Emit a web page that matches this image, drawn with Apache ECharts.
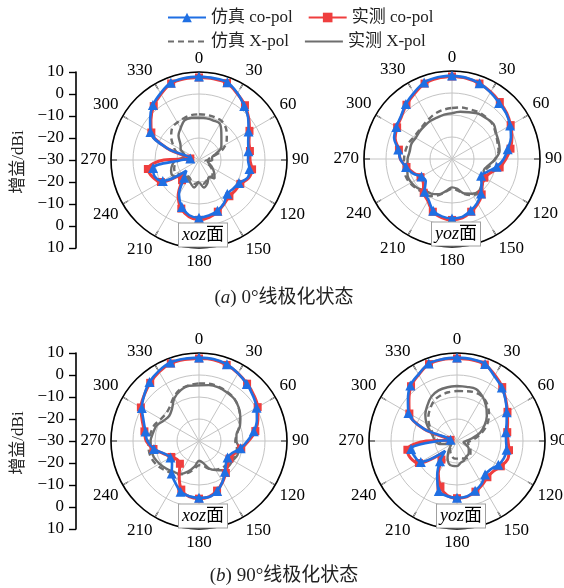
<!DOCTYPE html>
<html><head><meta charset="utf-8">
<script src="https://cdn.jsdelivr.net/npm/echarts@6/dist/echarts.min.js"></script>
<style>html,body{margin:0;padding:0;background:#fff}#c{width:564px;height:588px}</style>
</head><body><div id="c"></div>
<script>
// angles (deg), measured clockwise from top
const ANGLES = [0,10,20,30,40,50,60,70,80,90,100,110,120,130,140,150,160,170,180,190,200,210,220,230,240,250,260,270,280,290,300,310,320,330,340,350];
const ANGLE_TICKS = [0,30,60,90,120,150,180,210,240,270,300,330];
const GAIN_TICKS = ['10','0','−10','−20','−30','−20','−10','0','10'];

// (a) 0° linear polarisation, xoz plane
const a_xoz_simCo  = [7.9,7.8,7.6,5.0,2.0,-0.8,-4.0,-6.2,-7.2,-7.7,-6.7,-6.5,-9.0,-9.7,-10.0,-7.3,-5.5,-4.4,-3.8,-4.5,-7.3,-11.8,-19.5,-22.5,-11.0,-8.5,-8.8,-22.0,-26.0,-15.0,-4.5,-1.0,2.6,5.0,7.4,7.8];
const a_xoz_measCo = [7.5,7.5,7.2,4.8,2.5,-0.5,-3.5,-5.8,-6.5,-6.8,-5.5,-6.0,-8.3,-8.5,-8.5,-7.0,-5.0,-3.5,-2.8,-3.8,-6.5,-11.0,-18.0,-21.0,-10.0,-7.5,-6.4,-14.0,-26.0,-15.0,-5.0,-1.5,2.0,4.6,7.0,7.5];
const a_xoz_simX   = [-9.2,-9.2,-9.3,-9.5,-11.0,-13.5,-16.0,-20.0,-25.0,-26.0,-27.0,-26.0,-24.0,-22.0,-20.5,-21.0,-20.0,-19.0,-20.0,-19.0,-20.0,-21.0,-21.0,-20.0,-18.0,-18.0,-19.0,-21.0,-24.0,-19.0,-16.4,-13.5,-11.0,-10.3,-9.8,-9.3];
const a_xoz_measX  = [-10.8,-10.8,-10.9,-11.0,-14.2,-16.7,-18.3,-22.0,-24.0,-24.0,-26.0,-25.0,-23.0,-21.0,-19.0,-21.0,-18.8,-17.3,-19.7,-17.3,-18.8,-20.0,-20.3,-18.0,-16.0,-16.5,-17.7,-19.4,-23.0,-23.0,-20.4,-19.0,-15.5,-13.3,-10.8,-10.6];

// (a) 0° linear polarisation, yoz plane
const a_yoz_simCo  = [7.9,7.5,6.6,5.0,3.3,2.2,0.5,-1.5,-4.3,-6.5,-9.4,-13.0,-14.7,-12.5,-9.5,-7.0,-5.1,-3.3,-3.0,-3.5,-5.0,-8.6,-10.6,-14.4,-14.0,-11.0,-8.8,-6.5,-5.2,-2.0,-0.8,0.3,2.6,4.7,7.0,7.7];
const a_yoz_measCo = [7.5,7.3,6.5,5.2,3.8,2.5,0.8,-1.0,-3.0,-5.5,-8.0,-11.5,-13.0,-12.0,-9.0,-6.5,-4.5,-2.8,-2.3,-3.0,-4.5,-8.0,-10.0,-13.0,-13.5,-11.5,-9.0,-6.5,-5.5,-2.5,-1.2,0.0,2.2,4.2,6.5,7.3];
const a_yoz_simX   = [-6.8,-6.2,-6.0,-5.5,-5.5,-5.8,-7.0,-8.0,-8.5,-10.5,-12.5,-14.0,-13.0,-12.0,-10.5,-11.0,-13.0,-15.5,-16.5,-15.0,-12.5,-10.5,-10.0,-9.0,-8.0,-7.5,-7.8,-8.2,-8.5,-9.0,-10.0,-10.2,-9.8,-9.0,-8.0,-7.3];
const a_yoz_measX  = [-9.2,-8.2,-7.4,-6.2,-5.8,-5.3,-6.8,-7.4,-8.0,-10.3,-13.2,-14.7,-12.7,-12.3,-11.0,-11.8,-13.3,-16.2,-17.1,-15.3,-13.0,-11.7,-11.2,-9.5,-8.6,-8.5,-9.4,-9.8,-10.5,-10.3,-10.9,-10.7,-10.5,-10.1,-10.0,-9.5];

// (b) 90° linear polarisation, xoz plane
const b_xoz_simCo  = [7.9,7.8,7.1,5.5,3.8,2.0,0.2,-2.0,-4.7,-8.0,-10.8,-14.0,-15.0,-14.0,-11.7,-8.6,-5.8,-4.2,-4.2,-4.5,-5.5,-8.3,-10.7,-14.0,-15.0,-13.2,-9.2,-6.5,-5.3,-3.2,0.0,2.5,5.0,6.7,8.0,8.0];
const b_xoz_measCo = [7.5,7.5,6.8,5.5,4.0,2.5,0.8,-1.5,-4.0,-7.5,-10.5,-13.0,-14.0,-13.0,-11.0,-8.5,-6.0,-4.2,-3.8,-4.3,-6.5,-12.0,-16.5,-17.0,-15.5,-13.0,-9.0,-6.0,-4.8,-2.5,0.5,2.5,4.5,6.3,7.5,7.6];
const b_xoz_simX   = [-3.8,-3.6,-3.8,-4.2,-5.0,-6.5,-8.5,-10.5,-12.5,-13.5,-12.5,-12.0,-13.0,-13.5,-14.0,-15.0,-16.5,-18.5,-19.0,-17.0,-14.5,-12.5,-11.0,-9.5,-8.0,-7.0,-6.8,-7.0,-7.8,-8.5,-10.0,-10.5,-9.5,-7.0,-5.0,-4.2];
const b_xoz_measX  = [-4.7,-4.2,-4.1,-4.5,-5.0,-6.4,-8.3,-10.2,-12.7,-13.0,-11.5,-11.4,-12.3,-12.3,-12.6,-14.7,-16.7,-20.0,-21.0,-18.2,-15.2,-12.7,-11.8,-10.5,-9.3,-8.2,-7.9,-8.0,-8.8,-9.5,-11.5,-12.3,-10.9,-7.6,-5.5,-4.5];

// (b) 90° linear polarisation, yoz plane
const b_yoz_simCo  = [7.9,7.8,7.3,4.0,1.7,-1.2,-3.9,-6.0,-7.4,-7.7,-7.1,-7.3,-8.3,-10.0,-10.1,-7.6,-5.9,-4.4,-4.2,-4.5,-5.8,-12.0,-18.0,-23.0,-11.0,-9.5,-8.8,-21.0,-27.0,-14.0,-4.5,-0.9,3.0,5.0,7.5,7.8];
const b_yoz_measCo = [7.5,7.5,7.0,4.5,2.0,-1.0,-3.5,-5.5,-6.8,-6.8,-6.0,-5.5,-7.0,-8.5,-8.5,-7.0,-5.5,-4.2,-4.0,-4.8,-8.0,-13.0,-19.0,-22.0,-10.0,-7.5,-7.1,-16.0,-27.0,-14.0,-5.0,-1.5,2.5,4.8,7.2,7.6];
const b_yoz_simX   = [-7.3,-7.0,-6.5,-6.8,-8.5,-11.0,-14.0,-17.5,-21.0,-24.0,-25.0,-24.0,-23.0,-22.0,-21.0,-21.0,-21.5,-22.0,-22.0,-22.0,-23.0,-24.0,-25.0,-27.0,-27.0,-26.0,-24.0,-21.5,-20.0,-18.0,-15.5,-13.0,-11.0,-9.0,-8.0,-7.5];
const b_yoz_measX  = [-5.0,-5.0,-4.8,-6.7,-9.4,-12.3,-15.5,-18.8,-23.0,-26.0,-27.0,-26.0,-24.0,-23.0,-22.0,-21.8,-20.6,-20.0,-18.6,-18.5,-19.1,-21.4,-24.0,-26.0,-27.0,-26.0,-22.0,-20.0,-19.0,-17.1,-14.0,-11.2,-9.0,-6.7,-5.5,-5.2];

const PLOTS = [
  {simCo:a_xoz_simCo, measCo:a_xoz_measCo, simX:a_xoz_simX, measX:a_xoz_measX, plane:'xoz'},
  {simCo:a_yoz_simCo, measCo:a_yoz_measCo, simX:a_yoz_simX, measX:a_yoz_measX, plane:'yoz'},
  {simCo:b_xoz_simCo, measCo:b_xoz_measCo, simX:b_xoz_simX, measX:b_xoz_measX, plane:'xoz'},
  {simCo:b_yoz_simCo, measCo:b_yoz_measCo, simX:b_yoz_simX, measX:b_yoz_measX, plane:'yoz'}
];
const CENTERS = [[199,160],[452,159],[199,441],[457,441]];
const R = 88;

const FONT = '"Liberation Serif","Times New Roman","Noto Sans CJK SC",serif';
const BLUE = '#1f6fe3', RED = '#ef3e3e', GRAY = '#6e6e6e';

function buildData(vals, withMarkers) {
  const out = [];
  for (let i = 0; i <= ANGLES.length; i++) {
    const idx = i % ANGLES.length;
    const ang = i === ANGLES.length ? 360 : ANGLES[idx];
    const item = {value: [vals[idx], ang]};
    if (!withMarkers || i === ANGLES.length || ANGLES[idx] % 20 !== 0) item.symbol = 'none';
    out.push(item);
  }
  return out;
}

const polar = [], angleAxis = [], radiusAxis = [], series = [];
PLOTS.forEach((p, k) => {
  polar.push({center: CENTERS[k], radius: R});
  angleAxis.push({
    polarIndex: k, type: 'value', min: 0, max: 360, interval: 30, startAngle: 90, clockwise: true,
    axisLine: {lineStyle: {color: '#000', width: 1.6}},
    axisTick: {show: true, inside: true, length: 6, lineStyle: {color: '#000', width: 1.4}},
    axisLabel: {margin: 5, color: '#000', fontSize: 17, fontFamily: FONT,
      formatter: v => (v === 360 ? '' : String(v))},
    splitLine: {show: true, lineStyle: {color: '#c4c4c4', width: 1}}
  });
  radiusAxis.push({
    polarIndex: k, type: 'value', min: -30, max: 10, interval: 10,
    axisLine: {show: false}, axisTick: {show: false}, axisLabel: {show: false},
    splitLine: {show: true, lineStyle: {color: '#c4c4c4', width: 1}}
  });
  const common = {type: 'line', coordinateSystem: 'polar', polarIndex: k, smooth: 0.35, animation: false, silent: true};
  series.push(Object.assign({}, common, {name: '仿真 X-pol', data: buildData(p.simX, false), symbol: 'none',
    lineStyle: {color: GRAY, width: 2.4, type: [6, 4]}, itemStyle: {color: GRAY}, z: 2}));
  series.push(Object.assign({}, common, {name: '实测 X-pol', data: buildData(p.measX, false), symbol: 'none',
    lineStyle: {color: GRAY, width: 2.4}, itemStyle: {color: GRAY}, z: 3}));
  series.push(Object.assign({}, common, {name: '实测 co-pol', data: buildData(p.measCo, true), symbol: 'rect', symbolSize: 8,
    lineStyle: {color: RED, width: 3}, itemStyle: {color: RED}, z: 4}));
  series.push(Object.assign({}, common, {name: '仿真 co-pol', data: buildData(p.simCo, true), symbol: 'triangle', symbolSize: 10,
    lineStyle: {color: BLUE, width: 2.6}, itemStyle: {color: BLUE}, z: 5}));
});

// Left gain axes (center = −30 dBi, symmetric)
const grid = [
  {left: 76, top: CENTERS[0][1] - R, width: 1, height: 2 * R},
  {left: 76, top: CENTERS[2][1] - R, width: 1, height: 2 * R}
];
const xAxis = [0, 1].map(i => ({gridIndex: i, type: 'value', show: false, min: 0, max: 1}));
const yAxis = [0, 1].map(i => ({
  gridIndex: i, type: 'value', min: -40, max: 40, interval: 10,
  axisLine: {show: true, lineStyle: {color: '#000', width: 1.6}},
  axisTick: {show: true, inside: false, length: 7, lineStyle: {color: '#000', width: 1.4}},
  axisLabel: {margin: 12, color: '#000', fontSize: 17, fontFamily: FONT,
    formatter: v => GAIN_TICKS[Math.round((40 - v) / 10)]},
  splitLine: {show: false}
}));

const graphic = [];
[0, 2].forEach(k => {
  graphic.push({type: 'text', x: 19, y: CENTERS[k][1] + 2, rotation: Math.PI / 2, z: 100,
    style: {text: '增益/dBi', font: '17px ' + FONT, fill: '#222', align: 'center', verticalAlign: 'middle'}});
});
PLOTS.forEach((p, k) => {
  graphic.push({type: 'text', x: CENTERS[k][0] + 4, y: CENTERS[k][1] + 75, z: 100,
    style: {text: '{i|' + p.plane + '}面', font: '18px ' + FONT, fill: '#000', align: 'center', verticalAlign: 'middle',
      backgroundColor: '#fff', borderColor: '#a0a0a0', borderWidth: 1, padding: [3, 3, 2, 3],
      rich: {i: {font: 'italic 18px ' + FONT}}}});
});
graphic.push({type: 'text', x: 284, y: 298, z: 100,
  style: {text: '({i|a}) 0°线极化状态', font: '19px ' + FONT, fill: '#222', align: 'center', verticalAlign: 'middle',
    rich: {i: {font: 'italic 19px ' + FONT}}}});
graphic.push({type: 'text', x: 284, y: 576, z: 100,
  style: {text: '({i|b}) 90°线极化状态', font: '19px ' + FONT, fill: '#222', align: 'center', verticalAlign: 'middle',
    rich: {i: {font: 'italic 19px ' + FONT}}}});

const legendBase = {orient: 'horizontal', left: 162, itemWidth: 38, itemHeight: 12, itemGap: 15,
  textStyle: {fontSize: 17, fontFamily: FONT, color: '#222'}, selectedMode: false};

const chart = echarts.init(document.getElementById('c'), null, {renderer: 'canvas'});
chart.setOption({
  backgroundColor: '#fff',
  animation: false,
  legend: [
    Object.assign({}, legendBase, {top: 4, data: ['仿真 co-pol', '实测 co-pol']}),
    Object.assign({}, legendBase, {top: 28, data: [
      {name: '仿真 X-pol', itemStyle: {opacity: 0}},
      {name: '实测 X-pol', itemStyle: {opacity: 0}}
    ]})
  ],
  polar, angleAxis, radiusAxis, grid, xAxis, yAxis, series, graphic
});
</script></body></html>
